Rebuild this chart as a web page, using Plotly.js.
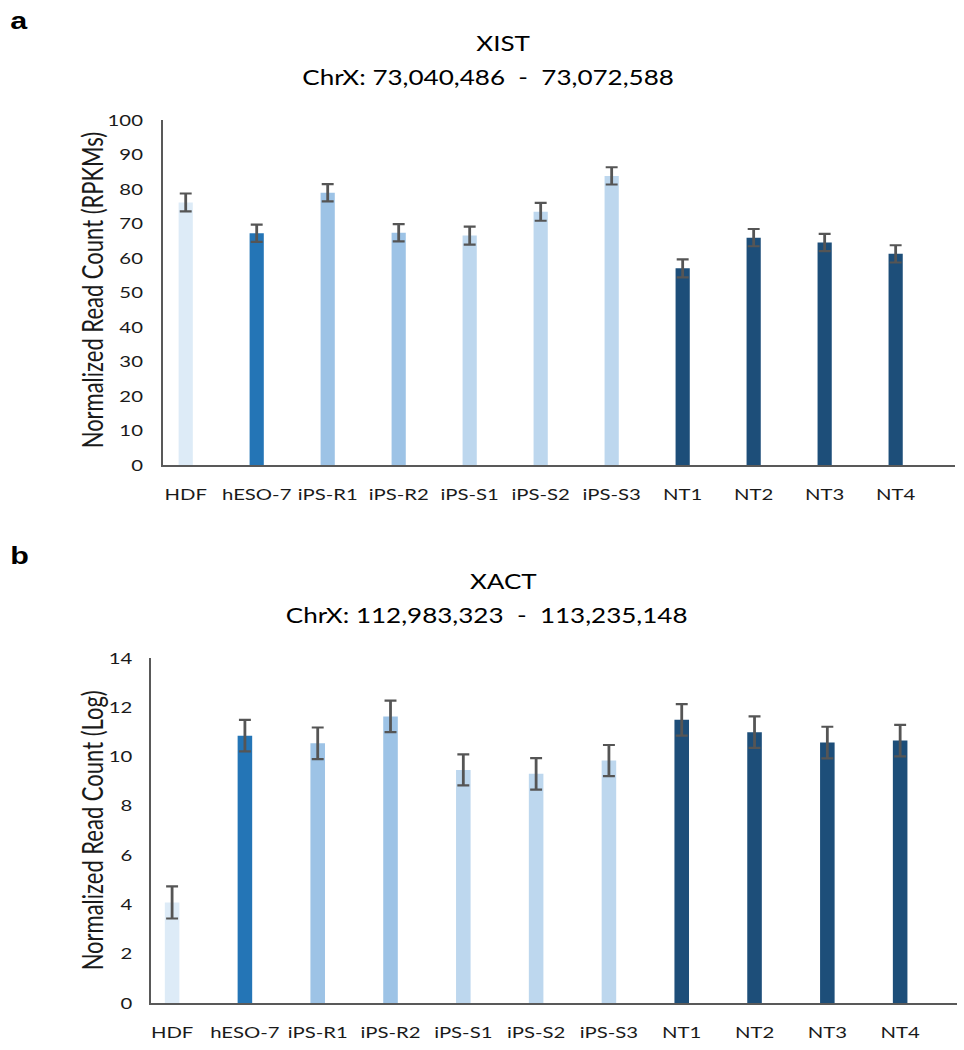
<!DOCTYPE html>
<html>
<head>
<meta charset="utf-8">
<script src="https://cdn.plot.ly/plotly-3.0.1.min.js"></script>
<style>
html,body{margin:0;padding:0;background:#fff;overflow:hidden;}
#wrap{width:964px;height:1050px;overflow:hidden;}
#chart{width:759px;height:1050px;transform:scaleX(1.27);transform-origin:0 0;}
</style>
</head>
<body>
<div id="wrap"><div id="chart"></div></div>
<script>
const categories = ["HDF","hESO-7","iPS-R1","iPS-R2","iPS-S1","iPS-S2","iPS-S3","NT1","NT2","NT3","NT4"];
const xistValues = [76.1, 67.2, 78.9, 67.3, 66.5, 73.4, 83.8, 57.0, 65.9, 64.5, 61.2];
const xistErrors = [2.6, 2.5, 2.5, 2.5, 2.6, 2.6, 2.5, 2.6, 2.5, 2.5, 2.5];
const xactValues = [4.08, 10.85, 10.54, 11.63, 9.46, 9.30, 9.84, 11.49, 10.99, 10.57, 10.65];
const xactErrors = [0.65, 0.64, 0.64, 0.64, 0.63, 0.64, 0.63, 0.64, 0.64, 0.64, 0.64];
const xistTitle = ["XIST", "ChrX: 73,040,486  -  73,072,588"];
const xactTitle = ["XACT", "ChrX: 112,983,323  -  113,235,148"];
const yTitles = ["Normalized Read Count (RPKMs)", "Normalized Read Count (Log)"];

const groupColors = {HDF:"#DDEBF7", hESO:"#2475B6", R:"#9DC3E6", S:"#BDD7EE", NT:"#1D4E79"};
function colorFor(c){
  if (c === "HDF") return groupColors.HDF;
  if (c.startsWith("hESO")) return groupColors.hESO;
  if (c.startsWith("iPS-R")) return groupColors.R;
  if (c.startsWith("iPS-S")) return groupColors.S;
  return groupColors.NT;
}
const colors = categories.map(colorFor);
const font = "Lato, 'Open Sans', sans-serif";
const errStyle = {type:"data", visible:true, color:"#555555", thickness:2.2, width:4.7};

const traces = [
  {type:"bar", x:categories, y:xistValues, xaxis:"x", yaxis:"y", width:0.2,
   marker:{color:colors}, error_y:Object.assign({array:xistErrors}, errStyle), hoverinfo:"x+y"},
  {type:"bar", x:categories, y:xactValues, xaxis:"x2", yaxis:"y2", width:0.2,
   marker:{color:colors}, error_y:Object.assign({array:xactErrors}, errStyle), hoverinfo:"x+y"}
];

const axisCommon = {showgrid:false, zeroline:false, showline:true, linecolor:"#595959", linewidth:1.6,
  ticks:"outside", tickcolor:"rgba(0,0,0,0)", fixedrange:true};
const xTickFont = {family:font, size:16, color:"#1a1a1a"};
const yTickFont = {family:font, size:16, color:"#1a1a1a"};

function ann(text, xpx, ypx, size, opts){
  return Object.assign({text:text, x:xpx/964, y:1-ypx/1050, xref:"paper", yref:"paper",
    xanchor:"center", yanchor:"middle", showarrow:false, font:{family:font, size:size, color:"#000"}}, opts||{});
}

const layout = {
  width:759, height:1050, margin:{l:0,r:0,t:0,b:0}, showlegend:false,
  paper_bgcolor:"#fff", plot_bgcolor:"#fff",
  xaxis: Object.assign({}, axisCommon, {domain:[163/964, 955/964], anchor:"y", type:"category",
    range:[-0.32, 10.835], ticklen:14, tickangle:0, tickfont:xTickFont}),
  yaxis: Object.assign({}, axisCommon, {domain:[(1050-465)/1050, (1050-120)/1050], anchor:"x",
    range:[0,100], dtick:10, ticklen:11, tickfont:yTickFont}),
  xaxis2: Object.assign({}, axisCommon, {domain:[151/964, 957/964], anchor:"y2", type:"category",
    range:[-0.29, 10.78], ticklen:14, tickangle:0, tickfont:xTickFont}),
  yaxis2: Object.assign({}, axisCommon, {domain:[(1050-1003)/1050, (1050-658)/1050], anchor:"x2",
    range:[0,14], dtick:2, ticklen:10, tickfont:yTickFont}),
  annotations:[
    ann("<b>a</b>", 8, 20, 24, {xanchor:"left", font:{family:"Liberation Sans, Arial, sans-serif", size:24, color:"#000"}}),
    ann(xistTitle[0], 503, 43, 20.5),
    ann(xistTitle[1], 488, 77, 20.5),
    ann("<b>b</b>", 8, 555, 24, {xanchor:"left", font:{family:"Liberation Sans, Arial, sans-serif", size:24, color:"#000"}}),
    ann(xactTitle[0], 503, 581, 20.5),
    ann(xactTitle[1], 486, 615, 20.5),
    ann(yTitles[0], 92, 290, 22, {textangle:-90, font:{family:font, size:22, color:"#1a1a1a"}}),
    ann(yTitles[1], 92, 830, 22, {textangle:-90, font:{family:font, size:22, color:"#1a1a1a"}})
  ]
};

Plotly.newPlot("chart", traces, layout, {displayModeBar:false, staticPlot:true});
</script>
</body>
</html>
